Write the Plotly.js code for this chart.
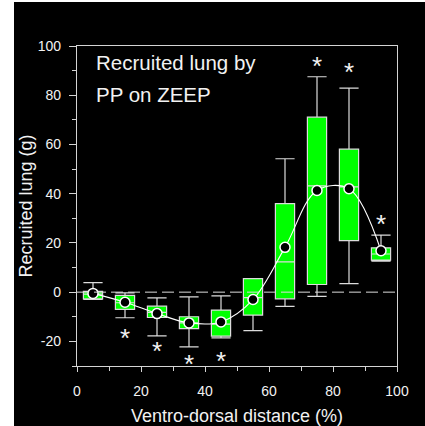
<!DOCTYPE html>
<html>
<head>
<meta charset="utf-8">
<script src="https://cdn.plot.ly/plotly-3.0.1.min.js"></script>
<style>
html,body{margin:0;padding:0;background:#ffffff;width:425px;height:426px;overflow:hidden;}
#chart{position:absolute;left:14px;top:2px;width:411px;height:424px;}
</style>
</head>
<body>
<div id="chart"></div>
<script>
// Ventro-dorsal position (%)
const positions = [5, 15, 25, 35, 45, 55, 65, 75, 85, 95];
// Box statistics (g)
const lowerWhisker = [-2.9, -10.4, -17.8, -22.2, -18.6, -15.6, -5.8, -1.7, 3.5, 12.6];
const q1Values     = [-2.7, -7.0, -10.3, -14.8, -17.9, -9.3, -2.7, 3.1, 20.9, 13.0];
const medianValues = [-0.8, -4.3, -8.2, -12.5, -13.0, -2.2, 12.3, 43.2, 42.8, 15.5];
const q3Values     = [0.3, -1.3, -5.7, -10.0, -7.3, 5.5, 36.0, 71.1, 58.1, 18.0];
const upperWhisker = [3.9, -0.3, -2.3, -1.9, -1.5, 5.5, 54.2, 87.5, 82.9, 23.2];
// Means (circles joined by the smooth line)
const meanValues   = [-0.5, -4.1, -8.7, -12.5, -12.1, -3.0, 18.2, 41.3, 42.0, 16.8];
// Significance asterisks
const sigX = [15, 25, 35, 45, 75, 85, 95];
const sigY = [-16.5, -22.0, -27.2, -26.0, 93.8, 91.3, 29.8];
// Tick labels
const xTickVals = [0, 20, 40, 60, 80, 100];
const xTickText = ["0", "20", "40", "60", "80", "100"];
const yTickVals = [-20, 0, 20, 40, 60, 80, 100];
const yTickText = ["-20", "0", "20", "40", "60", "80", "100"];
// Texts
const panelLines = ["Recruited lung by", "PP on ZEEP"];
const panelLineY = [93.1, 80.2];
const xTitle = "Ventro-dorsal distance (%)";
const yTitle = "Recruited lung (g)";

const axisColor = "#d4d4d4";
const textColor = "#f2f2f2";
const font = "Liberation Sans, Arial, sans-serif";

const boxTrace = {
  type: "box",
  x: positions,
  q1: q1Values,
  median: medianValues,
  q3: q3Values,
  lowerfence: lowerWhisker,
  upperfence: upperWhisker,
  width: 6,
  whiskerwidth: 1,
  fillcolor: "#00ff00",
  line: {color: "#dcdcdc", width: 1.2},
  boxpoints: false,
  showlegend: false,
  hoverinfo: "skip"
};

const meanTrace = {
  type: "scatter",
  mode: "lines+markers",
  x: positions,
  y: meanValues,
  line: {color: "#ffffff", width: 1.1, shape: "spline", smoothing: 1},
  marker: {color: "#000000", size: 10, line: {color: "#ffffff", width: 1.5}},
  showlegend: false,
  hoverinfo: "skip",
  cliponaxis: false
};

const annotations = [];
for (let i = 0; i < sigX.length; i++) {
  annotations.push({
    x: sigX[i], y: sigY[i], xref: "x", yref: "y",
    text: "*", showarrow: false,
    font: {family: font, size: 26, color: textColor},
    xanchor: "center", yanchor: "middle", yshift: -5
  });
}
for (let i = 0; i < panelLines.length; i++) {
  annotations.push({
    x: 5.4, y: panelLineY[i], xref: "x", yref: "y",
    text: panelLines[i], showarrow: false,
    font: {family: font, size: 20.5, color: textColor},
    xanchor: "left", yanchor: "middle"
  });
}

const layout = {
  width: 411, height: 424,
  paper_bgcolor: "#000000",
  plot_bgcolor: "#000000",
  margin: {l: 63, r: 28, t: 44, b: 60, pad: 0},
  font: {family: font, color: textColor, size: 14},
  showlegend: false,
  xaxis: {
    range: [0, 100], tickmode: "array", tickvals: xTickVals, ticktext: xTickText,
    showline: true, mirror: true, linecolor: axisColor, linewidth: 1.2,
    ticks: "outside", ticklen: 5, tickwidth: 1, tickcolor: axisColor,
    minor: {dtick: 10, tick0: 0, ticks: "outside", ticklen: 4, tickcolor: axisColor},
    showgrid: false, zeroline: false,
    tickfont: {family: font, size: 14, color: textColor},
    ticklabelstandoff: 7,
    title: {text: xTitle, font: {family: font, size: 18, color: textColor}, standoff: 16},
    automargin: false, fixedrange: true
  },
  yaxis: {
    range: [-30, 100], tickmode: "array", tickvals: yTickVals, ticktext: yTickText,
    showline: true, mirror: true, linecolor: axisColor, linewidth: 1.2,
    ticks: "outside", ticklen: 7, tickwidth: 1, tickcolor: axisColor,
    minor: {dtick: 10, tick0: 0, ticks: "outside", ticklen: 4, tickcolor: axisColor},
    showgrid: false, zeroline: false,
    tickfont: {family: font, size: 14, color: textColor},
    ticklabelstandoff: 5,
    title: {text: yTitle, font: {family: font, size: 18, color: textColor}, standoff: 0},
    automargin: false, fixedrange: true
  },
  shapes: [{
    type: "line", xref: "paper", yref: "y", x0: 0, x1: 1, y0: 0, y1: 0,
    line: {color: "#dcdcdc", width: 1, dash: "12px,5px"}, layer: "above"
  }],
  annotations: annotations
};

Plotly.newPlot("chart", [boxTrace, meanTrace], layout, {staticPlot: true, displayModeBar: false});
</script>
</body>
</html>
